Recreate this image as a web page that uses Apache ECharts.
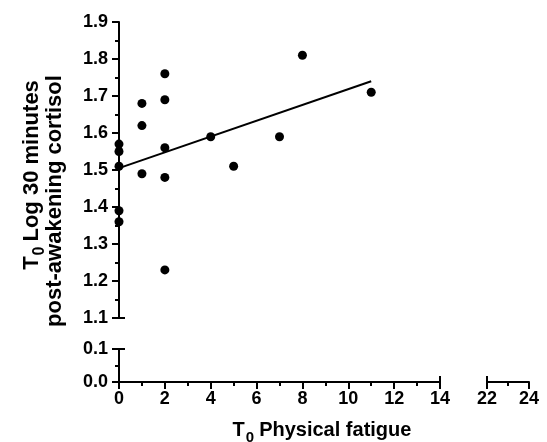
<!DOCTYPE html>
<html>
<head>
<meta charset="utf-8">
<script src="https://cdn.jsdelivr.net/npm/echarts@6/dist/echarts.min.js"></script>
<style>
  html, body { margin: 0; padding: 0; background: #fff; }
  #chart { width: 547px; height: 442px; }
</style>
</head>
<body>
<div id="chart"></div>
<script>
// data
var fatigue = [0, 0, 0, 0, 0, 1, 1, 1, 2, 2, 2, 2, 2, 4, 5, 7, 8, 11];
var cortisol = [1.57, 1.55, 1.51, 1.39, 1.36, 1.68, 1.62, 1.49, 1.76, 1.69, 1.56, 1.48, 1.23, 1.59, 1.51, 1.59, 1.81, 1.71];
// regression line end points
var fitX = [0, 11];
var fitY = [1.505, 1.74];
// axis ranges (broken axes)
var xLeftRange = [0, 14];
var xRightRange = [22, 24];
var yTopRange = [1.1, 1.9];
var yBottomRange = [0, 0.1];

var font = "Liberation Sans, Arial, sans-serif";
var black = "#000";

var points = fatigue.map(function (x, i) { return [x, cortisol[i]]; });
var fitLine = fitX.map(function (x, i) { return [x, fitY[i]]; });

function labelStyle(margin, formatter) {
  var s = { color: black, fontFamily: font, fontWeight: 700, fontSize: 18, margin: margin };
  if (formatter) s.formatter = formatter;
  return s;
}

function tickAxis(extra) {
  var base = {
    type: "value",
    splitLine: { show: false },
    axisLine: { show: true, lineStyle: { color: black, width: 2 } },
    axisTick: { show: true, length: 7, lineStyle: { color: black, width: 2 } },
    minorTick: { show: true, splitNumber: 2, length: 4, lineStyle: { color: black, width: 2 } }
  };
  return Object.assign(base, extra);
}

// axis end caps (tick pointing into the grid)
function capAxis(extra, value) {
  return Object.assign({
    type: "value",
    splitLine: { show: false },
    axisLine: { show: false },
    axisLabel: { show: false },
    axisTick: { show: true, inside: true, length: 6, customValues: [value], lineStyle: { color: black, width: 2 } }
  }, extra);
}

var oneDecimal = function (v) { return v.toFixed(1); };

var titleRich = {
  t: { fontFamily: font, fontWeight: "bold", fontSize: 20, lineHeight: 20, verticalAlign: "top", fill: black },
  s: { fontFamily: font, fontWeight: "bold", fontSize: 15, lineHeight: 15, padding: [10, 5, 0, 1], verticalAlign: "top", fill: black }
};
var yTitleRich = {
  t: { fontFamily: font, fontWeight: "bold", fontSize: 22, lineHeight: 22, verticalAlign: "top", fill: black },
  s: { fontFamily: font, fontWeight: "bold", fontSize: 16, lineHeight: 16, padding: [11, 5, 0, 1], verticalAlign: "top", fill: black }
};

var chart = echarts.init(document.getElementById("chart"));
chart.setOption({
  backgroundColor: "#fff",
  animation: false,
  grid: [
    { left: 119, top: 22, width: 321, height: 296 },
    { left: 119, top: 349, width: 321, height: 33 },
    { left: 487, top: 349, width: 42, height: 33 }
  ],
  xAxis: [
    { gridIndex: 0, type: "value", min: xLeftRange[0], max: xLeftRange[1], show: false },
    tickAxis({ gridIndex: 1, position: "bottom", min: xLeftRange[0], max: xLeftRange[1], interval: 2,
      axisLabel: labelStyle(8) }),
    tickAxis({ gridIndex: 2, position: "bottom", min: xRightRange[0], max: xRightRange[1], interval: 2,
      axisLabel: labelStyle(8) }),
    capAxis({ gridIndex: 1, position: "bottom", min: xLeftRange[0], max: xLeftRange[1] }, 14),
    capAxis({ gridIndex: 2, position: "bottom", min: xRightRange[0], max: xRightRange[1] }, 22)
  ],
  yAxis: [
    tickAxis({ gridIndex: 0, position: "left", min: yTopRange[0], max: yTopRange[1], interval: 0.1,
      axisLabel: labelStyle(11, oneDecimal) }),
    tickAxis({ gridIndex: 1, position: "left", min: yBottomRange[0], max: yBottomRange[1], interval: 0.1,
      axisLabel: labelStyle(11, oneDecimal) }),
    { gridIndex: 2, type: "value", min: yBottomRange[0], max: yBottomRange[1], show: false },
    capAxis({ gridIndex: 0, position: "left", min: yTopRange[0], max: yTopRange[1] }, 1.1),
    capAxis({ gridIndex: 1, position: "left", min: yBottomRange[0], max: yBottomRange[1] }, 0.1)
  ],
  series: [
    {
      type: "line",
      xAxisIndex: 0,
      yAxisIndex: 0,
      data: fitLine,
      symbol: "none",
      lineStyle: { color: black, width: 2 },
      z: 3
    },
    {
      type: "scatter",
      xAxisIndex: 0,
      yAxisIndex: 0,
      data: points,
      symbol: "circle",
      symbolSize: 9,
      clip: false,
      itemStyle: { color: black, opacity: 1 },
      z: 4
    }
  ],
  graphic: [
    {
      type: "text",
      x: 322, y: 430,
      style: {
        text: "{t|T}{s|0}{t|Physical fatigue}",
        align: "center",
        verticalAlign: "middle",
        rich: titleRich
      }
    },
    {
      type: "text",
      x: 32, y: 175,
      rotation: Math.PI / 2,
      style: {
        text: "{t|T}{s|0}{t|Log 30 minutes}",
        align: "center",
        verticalAlign: "middle",
        rich: yTitleRich
      }
    },
    {
      type: "text",
      x: 55, y: 201,
      rotation: Math.PI / 2,
      style: {
        text: "post-awakening cortisol",
        align: "center",
        verticalAlign: "middle",
        fontFamily: font,
        fontWeight: "bold",
        fontSize: 22,
        fill: black
      }
    }
  ]
});
</script>
</body>
</html>
